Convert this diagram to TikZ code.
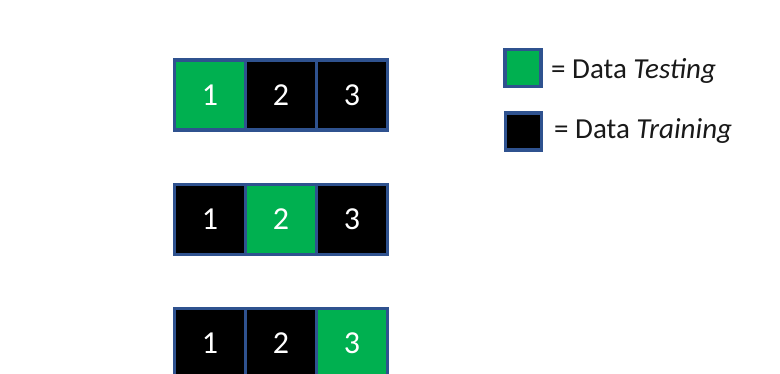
\documentclass[tikz,border=0pt]{standalone}
\usepackage{fontspec}
\setmainfont{Carlito}
\definecolor{cellblue}{RGB}{47,82,143}
\definecolor{testgreen}{RGB}{0,176,80}
\begin{document}
\begin{tikzpicture}[x=1pt,y=-1pt,
  cell/.style={draw=cellblue, line width=3.2pt, minimum width=71pt, minimum height=70pt,
    inner sep=0pt, text=white, font=\fontsize{32}{38}\selectfont},
  train/.style={cell, fill=black},
  test/.style={cell, fill=testgreen},
  legbox/.style={draw=cellblue, line width=3.2pt, minimum width=36pt, minimum height=37pt, inner sep=0pt},
  legtext/.style={anchor=base west, inner sep=0pt, font=\fontsize{29}{35}\selectfont, text=black!90}
]
\useasboundingbox (0,0) rectangle (780,374);
\clip (0,0) rectangle (780,374);
% row 1
\node[test]  (r1a) at (210,95) {1};
\node[train] (r1b) at (281,95) {2};
\node[train] (r1c) at (352,95) {3};
% row 2
\node[train] (r2a) at (210,219.5) {1};
\node[test]  (r2b) at (281,219.5) {2};
\node[train] (r2c) at (352,219.5) {3};
% row 3
\node[train] (r3a) at (210,343.5) {1};
\node[train] (r3b) at (281,343.5) {2};
\node[test]  (r3c) at (352,343.5) {3};
% legend
\node[legbox, fill=testgreen] (lg) at (523,68) {};
\node[legbox, fill=black] (lb) at (523.5,131.5) {};
\node[legtext] (lgt) at (551,78.3) {= Data \textit{Testing}};
\node[legtext] (lbt) at (554,139) {= Data \textit{Training}};
\end{tikzpicture}
\end{document}
